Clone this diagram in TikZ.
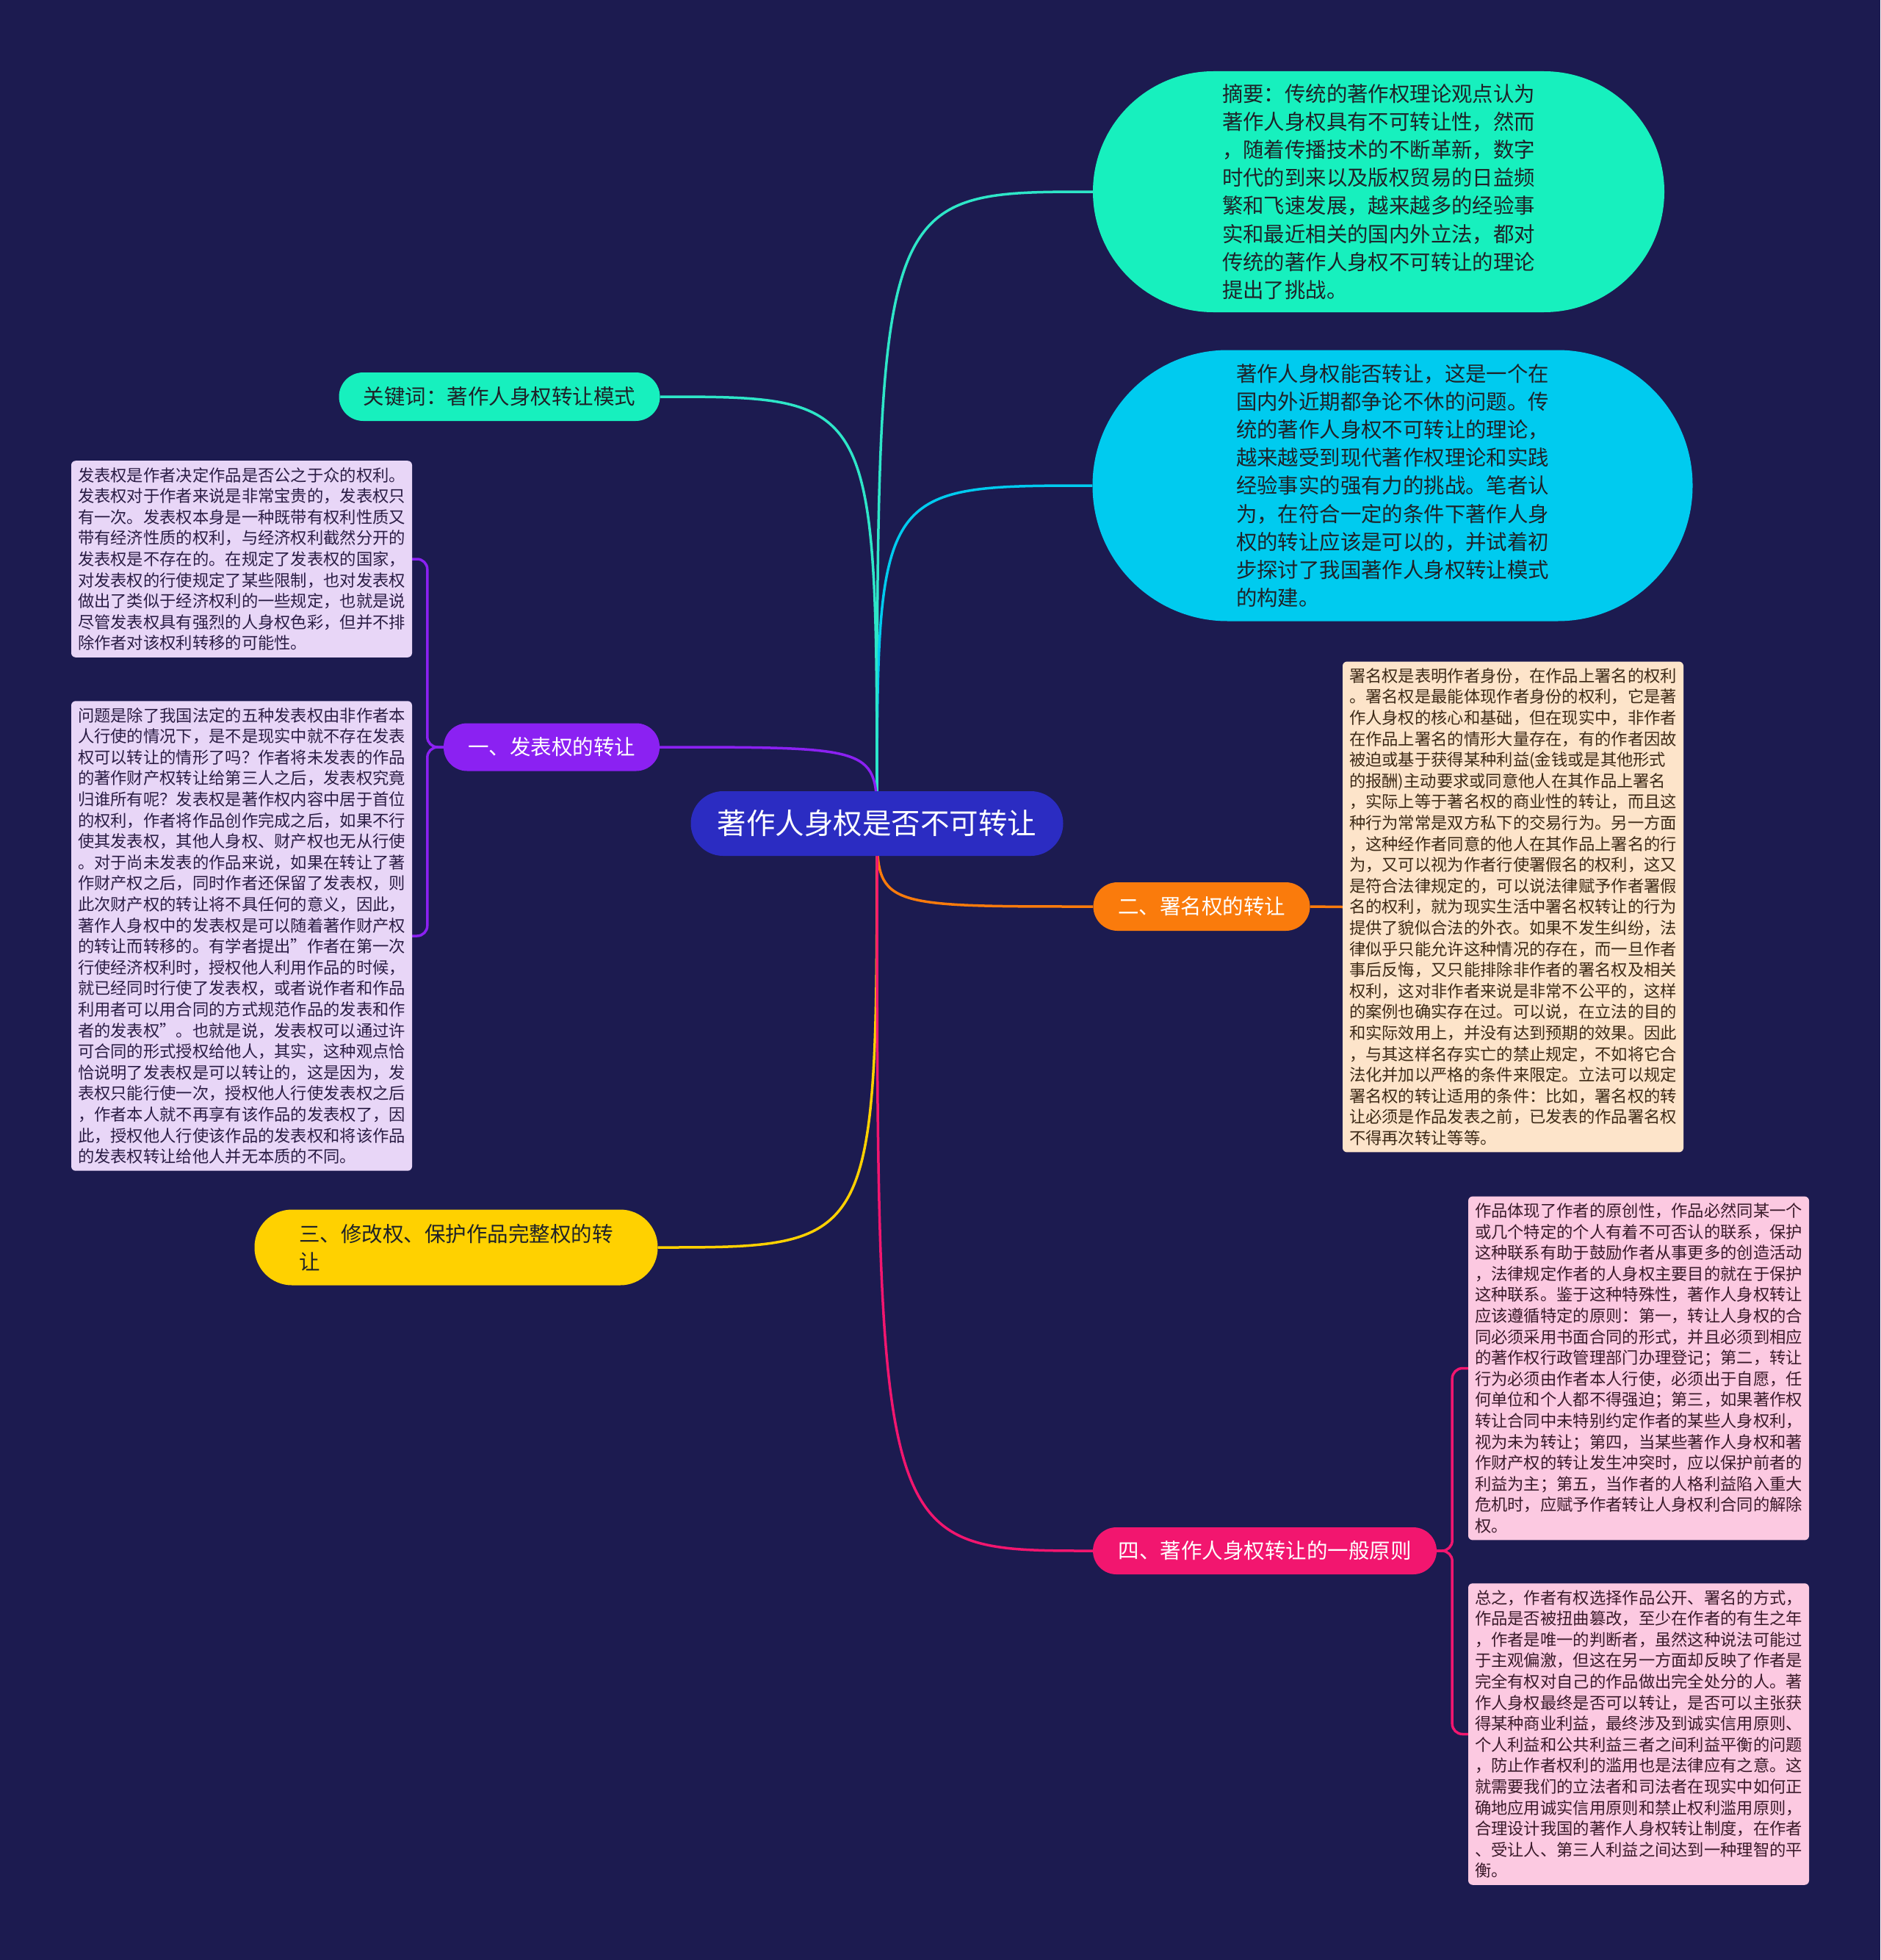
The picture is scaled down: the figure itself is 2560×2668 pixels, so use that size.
\documentclass[tikz,border=0pt]{standalone}
\usepackage{fontspec}
\setmainfont{Noto Sans CJK SC}
\pgfdeclarelayer{bg}
\pgfsetlayers{bg,main}
\definecolor{bgc}{HTML}{1C1B50}
\definecolor{cRoot}{HTML}{2B2CC2}
\definecolor{cTeal}{HTML}{17F0BE}
\definecolor{cTealL}{HTML}{2EE6C8}
\definecolor{cCyan}{HTML}{00CBEF}
\definecolor{cPurple}{HTML}{8B21F2}
\definecolor{cOrange}{HTML}{FA7B0C}
\definecolor{cYellow}{HTML}{FFD100}
\definecolor{cPink}{HTML}{F2166F}
\definecolor{cLav}{HTML}{E8D6F7}
\definecolor{cPeach}{HTML}{FDE4CA}
\definecolor{cPinkL}{HTML}{FCC9E1}
\definecolor{cDark}{HTML}{1E2228}
\definecolor{tLav}{HTML}{2B1D45}
\definecolor{tPeach}{HTML}{3D2A17}
\definecolor{tPink}{HTML}{3A1A2A}
\newcommand\sq{\char34\relax}
\tikzset{
  textbox/.style={rectangle, rounded corners=6pt, inner xsep=9pt, inner ysep=9pt, align=left,
    font=\fontsize{22.3}{28.6}\selectfont},
  bignode/.style={rectangle, align=left, text=cDark, font=\fontsize{28.4}{38.2}\selectfont},
  branch/.style={rectangle, align=left, font=\fontsize{28.5}{37.4}\selectfont},
  conn/.style={line width=3.5pt},
}
\begin{document}
\begin{tikzpicture}[x=1pt,y=-1pt]
\useasboundingbox (0,0) rectangle (2560,2668);

% root
\node[rectangle, fill=cRoot, text=white, minimum width=507pt, minimum height=88pt,
  rounded corners=44pt, font=\fontsize{39.5}{46}\selectfont] (root) at (1194,1121) {著作人身权是否不可转让};

% big nodes
\node[bignode, fill=cTeal, minimum width=778pt, minimum height=328pt, rounded corners=164pt] (zy) at (1877,261)
{摘要：传统的著作权理论观点认为\\著作人身权具有不可转让性，然而\\，随着传播技术的不断革新，数字\\时代的到来以及版权贸易的日益频\\繁和飞速发展，越来越多的经验事\\实和最近相关的国内外立法，都对\\传统的著作人身权不可转让的理论\\提出了挑战。};

\node[bignode, fill=cCyan, minimum width=817pt, minimum height=369pt, rounded corners=184pt] (bl) at (1896,661)
{著作人身权能否转让，这是一个在\\国内外近期都争论不休的问题。传\\统的著作人身权不可转让的理论，\\越来越受到现代著作权理论和实践\\经验事实的强有力的挑战。笔者认\\为，在符合一定的条件下著作人身\\权的转让应该是可以的，并试着初\\步探讨了我国著作人身权转让模式\\的构建。};

% branches
\node[branch, fill=cTeal, text=cDark, minimum width=437pt, minimum height=66pt, rounded corners=33pt] (kw) at (680,540) {关键词：著作人身权转让模式};
\node[branch, fill=cPurple, text=white, minimum width=294pt, minimum height=65pt, rounded corners=32pt] (n1) at (751,1017) {一、发表权的转让};
\node[branch, fill=cOrange, text=white, minimum width=295pt, minimum height=66pt, rounded corners=33pt] (n2) at (1636,1234) {二、署名权的转让};
\node[branch, fill=cYellow, text=cDark, minimum width=549pt, minimum height=103pt, rounded corners=51pt] (n3) at (621,1698) {三、修改权、保护作品完整权的转\\让};
\node[branch, fill=cPink, text=white, minimum width=468pt, minimum height=64pt, rounded corners=32pt] (n4) at (1722,2111) {四、著作人身权转让的一般原则};

% text boxes
\node[textbox, fill=cLav, text=tLav] (b1) at (329,761)
{发表权是作者决定作品是否公之于众的权利。\\发表权对于作者来说是非常宝贵的，发表权只\\有一次。发表权本身是一种既带有权利性质又\\带有经济性质的权利，与经济权利截然分开的\\发表权是不存在的。在规定了发表权的国家，\\对发表权的行使规定了某些限制，也对发表权\\做出了类似于经济权利的一些规定，也就是说\\尽管发表权具有强烈的人身权色彩，但并不排\\除作者对该权利转移的可能性。};

\node[textbox, fill=cLav, text=tLav] (b2) at (329,1274)
{问题是除了我国法定的五种发表权由非作者本\\人行使的情况下，是不是现实中就不存在发表\\权可以转让的情形了吗？作者将未发表的作品\\的著作财产权转让给第三人之后，发表权究竟\\归谁所有呢？发表权是著作权内容中居于首位\\的权利，作者将作品创作完成之后，如果不行\\使其发表权，其他人身权、财产权也无从行使\\。对于尚未发表的作品来说，如果在转让了著\\作财产权之后，同时作者还保留了发表权，则\\此次财产权的转让将不具任何的意义，因此，\\著作人身权中的发表权是可以随着著作财产权\\的转让而转移的。有学者提出\sq 作者在第一次\\行使经济权利时，授权他人利用作品的时候，\\就已经同时行使了发表权，或者说作者和作品\\利用者可以用合同的方式规范作品的发表和作\\者的发表权\sq 。也就是说，发表权可以通过许\\可合同的形式授权给他人，其实，这种观点恰\\恰说明了发表权是可以转让的，这是因为，发\\表权只能行使一次，授权他人行使发表权之后\\，作者本人就不再享有该作品的发表权了，因\\此，授权他人行使该作品的发表权和将该作品\\的发表权转让给他人并无本质的不同。};

\node[textbox, fill=cPeach, text=tPeach] (s1) at (2060,1234.5)
{署名权是表明作者身份，在作品上署名的权利\\。署名权是最能体现作者身份的权利，它是著\\作人身权的核心和基础，但在现实中，非作者\\在作品上署名的情形大量存在，有的作者因故\\被迫或基于获得某种利益(金钱或是其他形式\\的报酬)主动要求或同意他人在其作品上署名\\，实际上等于著名权的商业性的转让，而且这\\种行为常常是双方私下的交易行为。另一方面\\，这种经作者同意的他人在其作品上署名的行\\为，又可以视为作者行使署假名的权利，这又\\是符合法律规定的，可以说法律赋予作者署假\\名的权利，就为现实生活中署名权转让的行为\\提供了貌似合法的外衣。如果不发生纠纷，法\\律似乎只能允许这种情况的存在，而一旦作者\\事后反悔，又只能排除非作者的署名权及相关\\权利，这对非作者来说是非常不公平的，这样\\的案例也确实存在过。可以说，在立法的目的\\和实际效用上，并没有达到预期的效果。因此\\，与其这样名存实亡的禁止规定，不如将它合\\法化并加以严格的条件来限定。立法可以规定\\署名权的转让适用的条件：比如，署名权的转\\让必须是作品发表之前，已发表的作品署名权\\不得再次转让等等。};

\node[textbox, fill=cPinkL, text=tPink] (p1) at (2231,1862.5)
{作品体现了作者的原创性，作品必然同某一个\\或几个特定的个人有着不可否认的联系，保护\\这种联系有助于鼓励作者从事更多的创造活动\\，法律规定作者的人身权主要目的就在于保护\\这种联系。鉴于这种特殊性，著作人身权转让\\应该遵循特定的原则：第一，转让人身权的合\\同必须采用书面合同的形式，并且必须到相应\\的著作权行政管理部门办理登记；第二，转让\\行为必须由作者本人行使，必须出于自愿，任\\何单位和个人都不得强迫；第三，如果著作权\\转让合同中未特别约定作者的某些人身权利，\\视为未为转让；第四，当某些著作人身权和著\\作财产权的转让发生冲突时，应以保护前者的\\利益为主；第五，当作者的人格利益陷入重大\\危机时，应赋予作者转让人身权利合同的解除\\权。};

\node[textbox, fill=cPinkL, text=tPink] (p2) at (2231,2360.5)
{总之，作者有权选择作品公开、署名的方式，\\作品是否被扭曲篡改，至少在作者的有生之年\\，作者是唯一的判断者，虽然这种说法可能过\\于主观偏激，但这在另一方面却反映了作者是\\完全有权对自己的作品做出完全处分的人。著\\作人身权最终是否可以转让，是否可以主张获\\得某种商业利益，最终涉及到诚实信用原则、\\个人利益和公共利益三者之间利益平衡的问题\\，防止作者权利的滥用也是法律应有之意。这\\就需要我们的立法者和司法者在现实中如何正\\确地应用诚实信用原则和禁止权利滥用原则，\\合理设计我国的著作人身权转让制度，在作者\\、受让人、第三人利益之间达到一种理智的平\\衡。};

\begin{pgfonlayer}{bg}
\fill[bgc] (0,0) rectangle (2560,2668);
\draw[conn, cTealL] (root.center) .. controls (root.center |- zy.west) .. (zy.west);
\draw[conn, cCyan] (root.center) .. controls (root.center |- bl.west) .. (bl.west);
\draw[conn, cTealL] (root.center) .. controls (root.center |- kw.east) .. (kw.east);
\draw[conn, cPurple] (root.center) .. controls (root.center |- n1.east) .. (n1.east);
\draw[conn, cOrange] (root.center) .. controls (root.center |- n2.west) .. (n2.west);
\draw[conn, cYellow] (root.center) .. controls (root.center |- n3.east) .. (n3.east);
\draw[conn, cPink] (root.center) .. controls (root.center |- n4.west) .. (n4.west);
\draw[conn, cOrange] (n2.east) -- (s1.west);
\draw[conn, cPurple, rounded corners=14pt] (n1.west) -- ++(-22,0) |- (b1.east);
\draw[conn, cPurple, rounded corners=14pt] (n1.west) -- ++(-22,0) |- (b2.east);
\draw[conn, cPink, rounded corners=14pt] (n4.east) -- ++(21,0) |- (p1.west);
\draw[conn, cPink, rounded corners=14pt] (n4.east) -- ++(21,0) |- (p2.west);
\end{pgfonlayer}
\end{tikzpicture}
\end{document}
